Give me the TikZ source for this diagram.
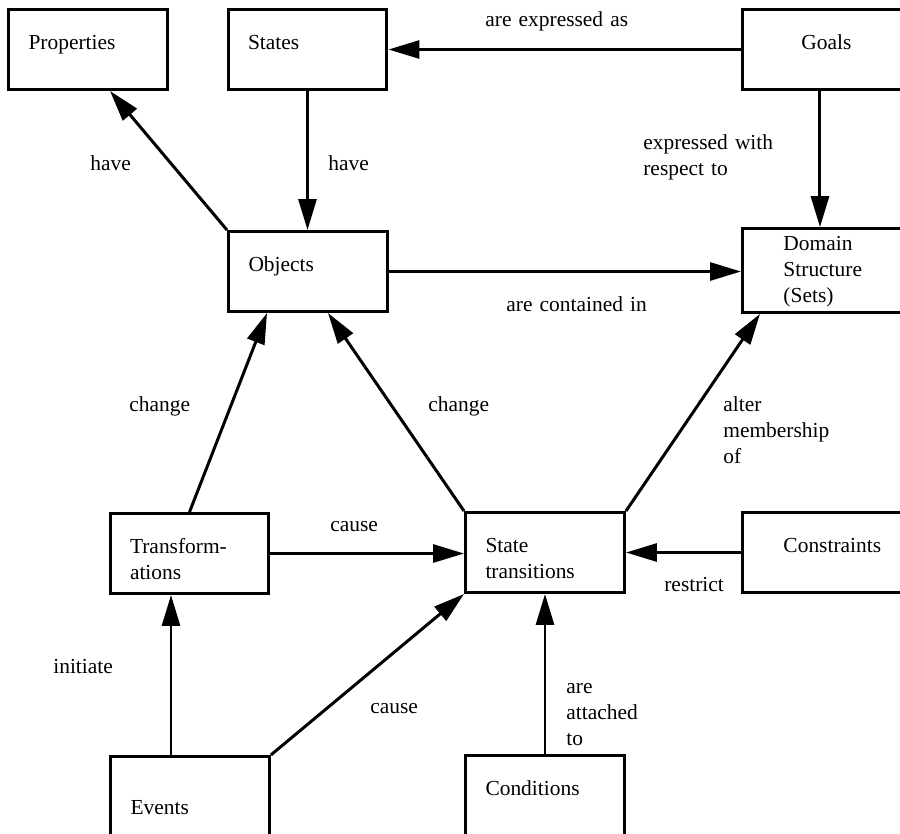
\documentclass[tikz,border=0pt]{standalone}
\usepackage{fontspec}
\setmainfont[WordSpace=0.75]{Liberation Serif}
\usetikzlibrary{arrows.meta}

\begin{document}
\begin{tikzpicture}[x=0.02cm, y=-0.02cm,
  font=\fontsize{12.2}{14.8}\selectfont,
  box/.style={draw, line width=1.7pt, minimum width=3.18cm, minimum height=1.6cm,
    inner xsep=0.4cm, text width=2.38cm, align=left, text height=9pt, text depth=9pt},
  wbox/.style={box, anchor=west, minimum width=4cm, inner xsep=0.82cm, text width=2.36cm},
  lbl/.style={inner sep=0pt, anchor=base west, align=left, text width=3cm},
  arr/.style={line width=1.7pt, -{Triangle[length=0.62cm, width=0.36cm]}}]
\useasboundingbox (0,0) rectangle (900,833);
\clip (0,0) rectangle (900,833);

% boxes
\node[box] (props) at (88,49.5) {Properties};
\node[box] (states) at (307.5,49.5) {States};
\node[wbox, inner xsep=1.18cm] (goals) at (741,49.5) {Goals};
\node[box] (objects) at (308,271.5) {Objects};
\node[wbox, text depth=32pt] (domain) at (741,270.5) {Domain\\Structure\\(Sets)};
\node[box] (trans) at (189.5,553.5) {Transform-\\ations};
\node[box] (trstate) at (545,552.5) {State\\transitions};
\node[wbox] (constr) at (741,552.5) {Constraints};
\node[box, text height=30pt] (events) at (190,796.5) {Events};
\node[box] (cond) at (545,795.5) {Conditions};

% labels
\node[lbl] (lexpras) at (485,26) {are expressed as};
\node[lbl] (lhaveprop) at (90,170) {have};
\node[lbl] (lhavestate) at (328,170) {have};
\node[lbl] (lexprwith) at (643,149) {expressed with\\respect to};
\node[lbl] (lcontain) at (506,311) {are contained in};
\node[lbl] (lchangeA) at (129,411) {change};
\node[lbl] (lchangeB) at (428,411) {change};
\node[lbl] (lalter) at (723,411) {alter\\membership\\of};
\node[lbl] (lcauseA) at (330,531) {cause};
\node[lbl] (lcauseB) at (370,713) {cause};
\node[lbl] (linit) at (53,673) {initiate};
\node[lbl] (lrestr) at (664,591) {restrict};
\node[lbl] (lattach) at (566,693) {are\\attached\\to};

% arrows
\draw[arr] (goals.west) -- (states.east);
\draw[arr] (states.south) -- (states.south |- objects.north);
\draw[arr] (objects.north west) -- ([xshift=0.44cm]props.south);
\draw[arr] ([xshift=1.58cm]goals.south west) -- ([xshift=1.58cm]domain.north west);
\draw[arr] (objects.east) -- (objects.east -| domain.west);
\draw[arr] (trans.north) -- ([xshift=-0.82cm]objects.south);
\draw[arr] (trstate.north west) -- ([xshift=0.4cm]objects.south);
\draw[arr] (trstate.north east) -- ([xshift=0.38cm]domain.south west);
\draw[arr] (trans.east) -- (trans.east -| trstate.west);
\draw[arr] (constr.west) -- (constr.west -| trstate.east);
\draw[arr] ([xshift=-0.38cm]events.north) -- ([xshift=-0.38cm]events.north |- trans.south);
\draw[arr] (events.north east) -- (trstate.south west);
\draw[arr] (cond.north) -- (cond.north |- trstate.south);
\end{tikzpicture}
\end{document}
